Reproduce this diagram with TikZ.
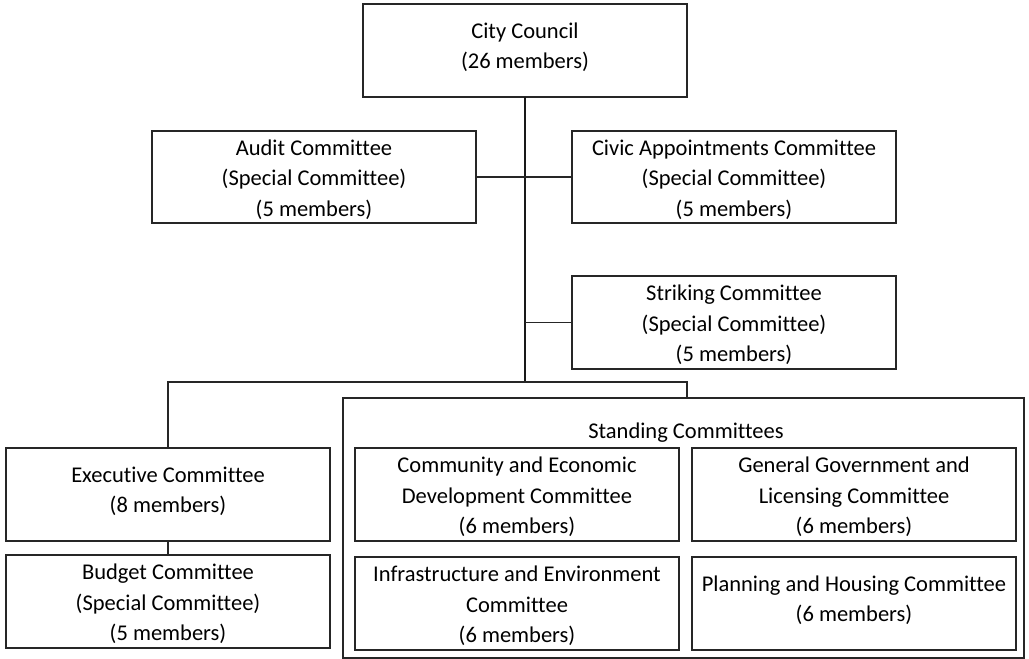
\documentclass[tikz,border=0pt]{standalone}
\usepackage{fontspec}
\setmainfont{Carlito}[Ligatures=NoCommon]
\begin{document}
\begin{tikzpicture}[x=1pt,y=-1pt,
  box/.style={draw=black!85, line width=1.8pt, rectangle, minimum width=324pt,
    align=center, font=\fontsize{22.5}{30.5}\selectfont, inner sep=0pt, outer sep=0pt},
  two/.style={text height=42pt, text depth=6pt},
  three/.style={text height=84pt, text depth=6pt},
  title/.style={align=center, font=\fontsize{22.5}{30.5}\selectfont, inner sep=0pt},
  conn/.style={line width=1.8pt, draw=black!85},
  trunk/.style={line width=2.6pt, draw=black!90}]
\useasboundingbox (0,0) rectangle (1029,659);
% outer standing box
\node[box, minimum width=681pt, minimum height=260pt] (standing) at (683.5,528) {};
\node[title] (stitle) at (686,433) {Standing Committees};
% boxes
\node[box, two, minimum height=93pt] (cc) at (525,50.5) {City Council\\(26 members)};
\node[box, three, minimum height=92pt] (audit) at (314,177) {Audit Committee\\(Special Committee)\\(5 members)};
\node[box, three, minimum height=92pt] (civic) at (734,177) {Civic Appointments Committee\\(Special Committee)\\(5 members)};
\node[box, three, minimum height=93pt] (striking) at (734,322.5) {Striking Committee\\(Special Committee)\\(5 members)};
\node[box, two, minimum height=93pt] (exec) at (168,494.5) {Executive Committee\\(8 members)};
\node[box, three, minimum height=93pt] (budget) at (168,601.5) {Budget Committee\\(Special Committee)\\(5 members)};
\node[box, three, minimum height=93pt] (comm) at (517,494.5) {Community and Economic\\Development Committee\\(6 members)};
\node[box, three, minimum height=93pt] (gen) at (854,494.5) {General Government and\\Licensing Committee\\(6 members)};
\node[box, three, minimum height=93pt] (infra) at (517,603.5) {Infrastructure and Environment\\Committee\\(6 members)};
\node[box, two, minimum height=93pt] (plan) at (854,603.5) {Planning and Housing Committee\\(6 members)};
% connectors
\coordinate (jt) at (525,382);
\coordinate (jl) at (168,382);
\coordinate (jr) at (687,382);
\draw[trunk] (cc.south) -- (jt);
\draw[conn] (audit.east) -- (civic.west);
\draw[conn] (striking.west) -- (striking.west -| jt);
\draw[conn] (exec.north) -- (jl) -- (jr) -- (jr |- standing.north);
\draw[conn] (exec.south) -- (budget.north);
\end{tikzpicture}
\end{document}
